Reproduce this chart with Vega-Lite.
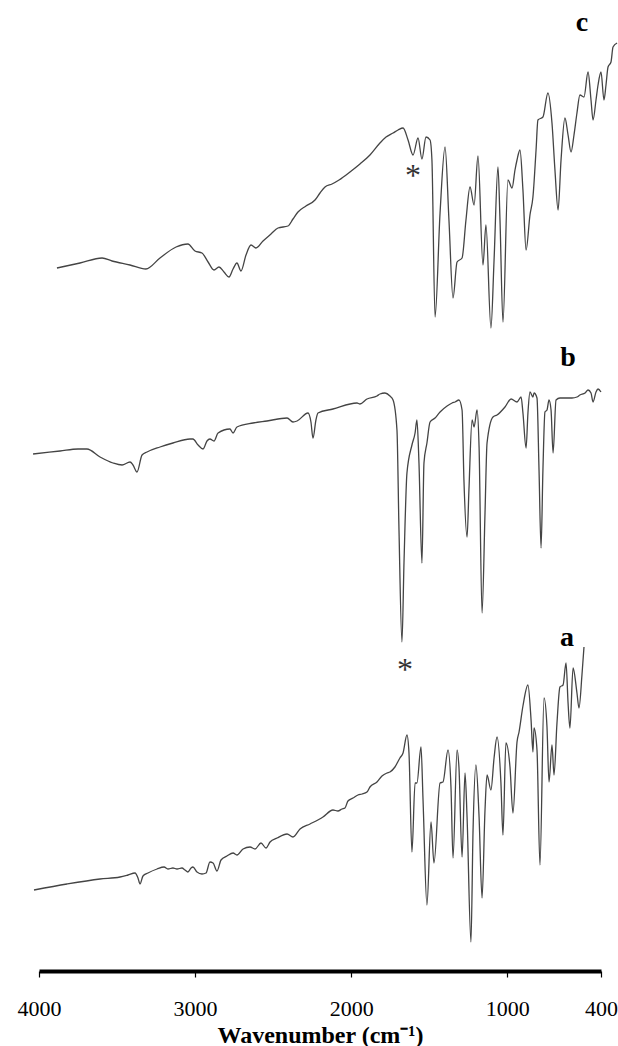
{
  "$schema": "https://vega.github.io/schema/vega-lite/v6.json",
  "width": 562,
  "height": 971,
  "autosize": {"type": "none"},
  "padding": {"left": 39, "right": 17, "top": 0, "bottom": 75},
  "background": "white",
  "config": {"view": {"stroke": null}},
  "datasets": {
    "spectra": [
      {"s":"c","wn":3885,"T":70.3},{"s":"c","wn":3737,"T":70.8},{"s":"c","wn":3596,"T":71.3},{"s":"c","wn":3532,"T":71.0},{"s":"c","wn":3417,"T":70.6},{"s":"c","wn":3315,"T":70.2},{"s":"c","wn":3225,"T":71.3},{"s":"c","wn":3122,"T":72.4},{"s":"c","wn":3046,"T":72.7},{"s":"c","wn":3001,"T":72.0},{"s":"c","wn":2956,"T":71.8},{"s":"c","wn":2917,"T":70.9},{"s":"c","wn":2879,"T":70.1},{"s":"c","wn":2847,"T":70.4},{"s":"c","wn":2815,"T":69.9},{"s":"c","wn":2783,"T":69.4},{"s":"c","wn":2757,"T":70.2},{"s":"c","wn":2732,"T":70.8},{"s":"c","wn":2706,"T":70.0},{"s":"c","wn":2674,"T":71.6},{"s":"c","wn":2642,"T":72.6},{"s":"c","wn":2610,"T":72.3},{"s":"c","wn":2565,"T":73.0},{"s":"c","wn":2514,"T":73.7},{"s":"c","wn":2469,"T":74.3},{"s":"c","wn":2405,"T":74.5},{"s":"c","wn":2373,"T":75.2},{"s":"c","wn":2341,"T":75.9},{"s":"c","wn":2290,"T":76.5},{"s":"c","wn":2232,"T":77.1},{"s":"c","wn":2200,"T":77.8},{"s":"c","wn":2168,"T":78.4},{"s":"c","wn":2123,"T":78.7},{"s":"c","wn":2078,"T":79.1},{"s":"c","wn":2008,"T":79.9},{"s":"c","wn":1944,"T":80.7},{"s":"c","wn":1880,"T":81.6},{"s":"c","wn":1816,"T":82.8},{"s":"c","wn":1777,"T":83.4},{"s":"c","wn":1732,"T":83.8},{"s":"c","wn":1700,"T":84.1},{"s":"c","wn":1668,"T":84.3},{"s":"c","wn":1636,"T":83.1},{"s":"c","wn":1604,"T":81.6},{"s":"c","wn":1572,"T":83.3},{"s":"c","wn":1547,"T":81.2},{"s":"c","wn":1521,"T":83.4},{"s":"c","wn":1495,"T":83.1},{"s":"c","wn":1483,"T":81.1},{"s":"c","wn":1463,"T":65.4},{"s":"c","wn":1431,"T":75.8},{"s":"c","wn":1399,"T":82.4},{"s":"c","wn":1374,"T":75.1},{"s":"c","wn":1348,"T":67.3},{"s":"c","wn":1322,"T":70.9},{"s":"c","wn":1290,"T":71.3},{"s":"c","wn":1265,"T":75.1},{"s":"c","wn":1239,"T":78.4},{"s":"c","wn":1213,"T":76.6},{"s":"c","wn":1188,"T":81.5},{"s":"c","wn":1156,"T":70.6},{"s":"c","wn":1137,"T":74.6},{"s":"c","wn":1105,"T":64.3},{"s":"c","wn":1085,"T":71.1},{"s":"c","wn":1060,"T":80.4},{"s":"c","wn":1047,"T":75.1},{"s":"c","wn":1028,"T":64.9},{"s":"c","wn":996,"T":79.1},{"s":"c","wn":970,"T":78.3},{"s":"c","wn":951,"T":80.1},{"s":"c","wn":938,"T":81.1},{"s":"c","wn":919,"T":82.1},{"s":"c","wn":900,"T":78.1},{"s":"c","wn":880,"T":72.1},{"s":"c","wn":855,"T":75.6},{"s":"c","wn":836,"T":77.4},{"s":"c","wn":816,"T":82.1},{"s":"c","wn":804,"T":85.1},{"s":"c","wn":772,"T":85.4},{"s":"c","wn":740,"T":87.8},{"s":"c","wn":714,"T":84.8},{"s":"c","wn":695,"T":80.1},{"s":"c","wn":675,"T":76.1},{"s":"c","wn":656,"T":81.1},{"s":"c","wn":631,"T":85.3},{"s":"c","wn":611,"T":83.6},{"s":"c","wn":592,"T":81.9},{"s":"c","wn":573,"T":83.6},{"s":"c","wn":554,"T":85.8},{"s":"c","wn":535,"T":87.6},{"s":"c","wn":509,"T":87.4},{"s":"c","wn":483,"T":89.9},{"s":"c","wn":464,"T":87.1},{"s":"c","wn":451,"T":85.1},{"s":"c","wn":432,"T":87.1},{"s":"c","wn":419,"T":88.6},{"s":"c","wn":400,"T":89.9},{"s":"c","wn":381,"T":87.1},{"s":"c","wn":368,"T":88.6},{"s":"c","wn":355,"T":90.4},{"s":"c","wn":336,"T":90.9},{"s":"c","wn":323,"T":92.4},{"s":"c","wn":297,"T":92.8},
      {"s":"b","wn":4038,"T":51.7},{"s":"b","wn":3865,"T":52.0},{"s":"b","wn":3750,"T":52.2},{"s":"b","wn":3693,"T":52.2},{"s":"b","wn":3609,"T":51.4},{"s":"b","wn":3526,"T":50.8},{"s":"b","wn":3468,"T":50.6},{"s":"b","wn":3417,"T":50.9},{"s":"b","wn":3398,"T":50.6},{"s":"b","wn":3372,"T":49.9},{"s":"b","wn":3340,"T":51.6},{"s":"b","wn":3308,"T":51.9},{"s":"b","wn":3225,"T":52.4},{"s":"b","wn":3142,"T":52.8},{"s":"b","wn":3033,"T":53.2},{"s":"b","wn":3014,"T":53.2},{"s":"b","wn":2981,"T":52.6},{"s":"b","wn":2949,"T":52.2},{"s":"b","wn":2924,"T":53.0},{"s":"b","wn":2905,"T":53.2},{"s":"b","wn":2879,"T":53.0},{"s":"b","wn":2853,"T":53.8},{"s":"b","wn":2777,"T":54.2},{"s":"b","wn":2757,"T":53.8},{"s":"b","wn":2732,"T":54.4},{"s":"b","wn":2629,"T":54.8},{"s":"b","wn":2540,"T":55.0},{"s":"b","wn":2411,"T":55.3},{"s":"b","wn":2373,"T":54.9},{"s":"b","wn":2347,"T":55.0},{"s":"b","wn":2277,"T":55.8},{"s":"b","wn":2258,"T":54.9},{"s":"b","wn":2245,"T":53.3},{"s":"b","wn":2226,"T":55.1},{"s":"b","wn":2213,"T":55.8},{"s":"b","wn":2117,"T":56.2},{"s":"b","wn":1963,"T":56.8},{"s":"b","wn":1944,"T":56.7},{"s":"b","wn":1899,"T":57.2},{"s":"b","wn":1835,"T":57.5},{"s":"b","wn":1816,"T":57.7},{"s":"b","wn":1784,"T":57.8},{"s":"b","wn":1752,"T":57.5},{"s":"b","wn":1732,"T":57.1},{"s":"b","wn":1707,"T":54.1},{"s":"b","wn":1694,"T":44.1},{"s":"b","wn":1675,"T":32.9},{"s":"b","wn":1662,"T":40.8},{"s":"b","wn":1643,"T":49.8},{"s":"b","wn":1611,"T":52.6},{"s":"b","wn":1591,"T":53.8},{"s":"b","wn":1579,"T":55.1},{"s":"b","wn":1566,"T":50.8},{"s":"b","wn":1547,"T":40.8},{"s":"b","wn":1534,"T":50.8},{"s":"b","wn":1515,"T":52.8},{"s":"b","wn":1495,"T":54.9},{"s":"b","wn":1463,"T":55.3},{"s":"b","wn":1431,"T":55.9},{"s":"b","wn":1386,"T":56.5},{"s":"b","wn":1354,"T":56.8},{"s":"b","wn":1335,"T":56.9},{"s":"b","wn":1310,"T":57.1},{"s":"b","wn":1290,"T":56.1},{"s":"b","wn":1278,"T":49.1},{"s":"b","wn":1258,"T":43.4},{"s":"b","wn":1246,"T":48.1},{"s":"b","wn":1226,"T":55.1},{"s":"b","wn":1213,"T":54.4},{"s":"b","wn":1194,"T":56.1},{"s":"b","wn":1181,"T":52.4},{"s":"b","wn":1162,"T":35.8},{"s":"b","wn":1143,"T":45.8},{"s":"b","wn":1130,"T":52.8},{"s":"b","wn":1092,"T":55.4},{"s":"b","wn":1066,"T":55.6},{"s":"b","wn":1015,"T":56.4},{"s":"b","wn":976,"T":57.2},{"s":"b","wn":938,"T":56.9},{"s":"b","wn":912,"T":57.4},{"s":"b","wn":900,"T":55.8},{"s":"b","wn":880,"T":52.3},{"s":"b","wn":868,"T":55.8},{"s":"b","wn":855,"T":57.9},{"s":"b","wn":836,"T":57.4},{"s":"b","wn":829,"T":57.8},{"s":"b","wn":810,"T":57.3},{"s":"b","wn":797,"T":50.1},{"s":"b","wn":784,"T":42.3},{"s":"b","wn":772,"T":50.1},{"s":"b","wn":759,"T":55.9},{"s":"b","wn":746,"T":56.1},{"s":"b","wn":733,"T":57.1},{"s":"b","wn":720,"T":56.1},{"s":"b","wn":707,"T":51.8},{"s":"b","wn":688,"T":57.1},{"s":"b","wn":663,"T":57.3},{"s":"b","wn":586,"T":57.3},{"s":"b","wn":554,"T":57.4},{"s":"b","wn":535,"T":57.6},{"s":"b","wn":502,"T":57.8},{"s":"b","wn":483,"T":58.1},{"s":"b","wn":464,"T":57.8},{"s":"b","wn":451,"T":56.9},{"s":"b","wn":432,"T":57.9},{"s":"b","wn":419,"T":58.2},{"s":"b","wn":400,"T":57.9},
      {"s":"a","wn":4032,"T":8.1},{"s":"a","wn":3821,"T":8.7},{"s":"a","wn":3609,"T":9.2},{"s":"a","wn":3481,"T":9.4},{"s":"a","wn":3430,"T":9.6},{"s":"a","wn":3385,"T":9.8},{"s":"a","wn":3366,"T":9.3},{"s":"a","wn":3353,"T":8.7},{"s":"a","wn":3334,"T":9.5},{"s":"a","wn":3302,"T":9.8},{"s":"a","wn":3244,"T":10.2},{"s":"a","wn":3199,"T":10.4},{"s":"a","wn":3174,"T":10.2},{"s":"a","wn":3142,"T":10.3},{"s":"a","wn":3116,"T":10.2},{"s":"a","wn":3084,"T":10.3},{"s":"a","wn":3065,"T":10.1},{"s":"a","wn":3046,"T":9.9},{"s":"a","wn":3026,"T":10.3},{"s":"a","wn":3014,"T":10.4},{"s":"a","wn":2988,"T":9.9},{"s":"a","wn":2956,"T":9.7},{"s":"a","wn":2930,"T":9.8},{"s":"a","wn":2905,"T":10.9},{"s":"a","wn":2885,"T":10.8},{"s":"a","wn":2860,"T":10.0},{"s":"a","wn":2834,"T":11.1},{"s":"a","wn":2796,"T":11.5},{"s":"a","wn":2757,"T":11.8},{"s":"a","wn":2732,"T":11.6},{"s":"a","wn":2693,"T":12.2},{"s":"a","wn":2648,"T":12.4},{"s":"a","wn":2616,"T":12.2},{"s":"a","wn":2578,"T":12.8},{"s":"a","wn":2546,"T":12.3},{"s":"a","wn":2520,"T":12.9},{"s":"a","wn":2475,"T":13.3},{"s":"a","wn":2411,"T":13.7},{"s":"a","wn":2373,"T":13.4},{"s":"a","wn":2328,"T":14.2},{"s":"a","wn":2264,"T":14.7},{"s":"a","wn":2181,"T":15.4},{"s":"a","wn":2117,"T":16.1},{"s":"a","wn":2085,"T":16.0},{"s":"a","wn":2059,"T":16.2},{"s":"a","wn":2040,"T":16.3},{"s":"a","wn":2021,"T":17.0},{"s":"a","wn":1989,"T":17.3},{"s":"a","wn":1957,"T":17.6},{"s":"a","wn":1931,"T":17.7},{"s":"a","wn":1899,"T":17.9},{"s":"a","wn":1880,"T":18.4},{"s":"a","wn":1835,"T":18.9},{"s":"a","wn":1803,"T":19.5},{"s":"a","wn":1771,"T":19.8},{"s":"a","wn":1752,"T":19.9},{"s":"a","wn":1720,"T":20.4},{"s":"a","wn":1688,"T":21.3},{"s":"a","wn":1668,"T":21.8},{"s":"a","wn":1643,"T":23.6},{"s":"a","wn":1630,"T":21.8},{"s":"a","wn":1611,"T":11.9},{"s":"a","wn":1591,"T":18.8},{"s":"a","wn":1579,"T":18.8},{"s":"a","wn":1553,"T":22.4},{"s":"a","wn":1540,"T":17.1},{"s":"a","wn":1515,"T":6.6},{"s":"a","wn":1489,"T":14.9},{"s":"a","wn":1470,"T":10.8},{"s":"a","wn":1431,"T":18.8},{"s":"a","wn":1412,"T":18.9},{"s":"a","wn":1380,"T":22.1},{"s":"a","wn":1361,"T":18.4},{"s":"a","wn":1348,"T":11.3},{"s":"a","wn":1322,"T":22.1},{"s":"a","wn":1310,"T":20.4},{"s":"a","wn":1290,"T":11.4},{"s":"a","wn":1271,"T":19.8},{"s":"a","wn":1258,"T":15.4},{"s":"a","wn":1233,"T":2.9},{"s":"a","wn":1220,"T":13.8},{"s":"a","wn":1201,"T":20.6},{"s":"a","wn":1181,"T":15.4},{"s":"a","wn":1162,"T":7.3},{"s":"a","wn":1143,"T":16.1},{"s":"a","wn":1130,"T":19.6},{"s":"a","wn":1105,"T":18.1},{"s":"a","wn":1085,"T":21.3},{"s":"a","wn":1066,"T":23.4},{"s":"a","wn":1041,"T":18.8},{"s":"a","wn":1028,"T":13.6},{"s":"a","wn":1009,"T":22.8},{"s":"a","wn":983,"T":20.4},{"s":"a","wn":964,"T":15.8},{"s":"a","wn":938,"T":22.9},{"s":"a","wn":925,"T":23.9},{"s":"a","wn":900,"T":26.5},{"s":"a","wn":868,"T":28.6},{"s":"a","wn":848,"T":25.1},{"s":"a","wn":836,"T":21.9},{"s":"a","wn":829,"T":24.3},{"s":"a","wn":810,"T":22.1},{"s":"a","wn":791,"T":10.6},{"s":"a","wn":765,"T":27.3},{"s":"a","wn":746,"T":24.4},{"s":"a","wn":733,"T":18.9},{"s":"a","wn":714,"T":22.6},{"s":"a","wn":701,"T":19.6},{"s":"a","wn":682,"T":24.8},{"s":"a","wn":663,"T":28.4},{"s":"a","wn":643,"T":28.6},{"s":"a","wn":624,"T":30.8},{"s":"a","wn":611,"T":26.8},{"s":"a","wn":599,"T":24.3},{"s":"a","wn":579,"T":30.3},{"s":"a","wn":554,"T":27.8},{"s":"a","wn":541,"T":26.3},{"s":"a","wn":522,"T":29.6},{"s":"a","wn":509,"T":32.4}
    ],
    "labels": [
      {"text":"c","wn":522,"T":94.8},
      {"text":"b","wn":611,"T":61.3},
      {"text":"a","wn":618,"T":33.3}
    ],
    "marks": [
      {"text":"*","wn":1604,"T":80.3},
      {"text":"*","wn":1656,"T":30.9}
    ]
  },
  "layer": [
    {
      "data": {"name": "spectra"},
      "mark": {"type": "line", "color": "#444444", "strokeWidth": 1.3, "clip": false, "interpolate": "monotone"},
      "encoding": {
        "x": {
          "field": "wn", "type": "quantitative",
          "scale": {"domain": [4000, 400], "nice": false, "zero": false},
          "axis": {
            "values": [4000, 3000, 2000, 1000, 400],
            "format": "d",
            "title": "Wavenumber (cm⁻¹)",
            "grid": false,
            "domainColor": "black", "domainWidth": 4,
            "tickColor": "black", "tickWidth": 1.2, "tickSize": 6,
            "labelFont": "Liberation Serif", "labelFontSize": 22, "labelColor": "black",
            "labelPadding": 21, "labelFlush": false, "labelOverlap": false,
            "titleFont": "Liberation Serif", "titleFontSize": 24, "titleFontWeight": "bold",
            "titleColor": "black", "titlePadding": 4
          }
        },
        "y": {
          "field": "T", "type": "quantitative",
          "scale": {"domain": [0, 97.1], "nice": false, "zero": false},
          "axis": null
        },
        "detail": {"field": "s"}
      }
    },
    {
      "data": {"name": "labels"},
      "mark": {"type": "text", "font": "Liberation Serif", "fontWeight": "bold", "fontSize": 28, "color": "black", "baseline": "middle", "align": "center"},
      "encoding": {
        "x": {"field": "wn", "type": "quantitative"},
        "y": {"field": "T", "type": "quantitative"},
        "text": {"field": "text"}
      }
    },
    {
      "data": {"name": "marks"},
      "mark": {"type": "text", "font": "Liberation Serif", "fontSize": 32, "color": "#333333", "baseline": "middle", "align": "center", "dy": 8},
      "encoding": {
        "x": {"field": "wn", "type": "quantitative"},
        "y": {"field": "T", "type": "quantitative"},
        "text": {"field": "text"}
      }
    }
  ]
}
